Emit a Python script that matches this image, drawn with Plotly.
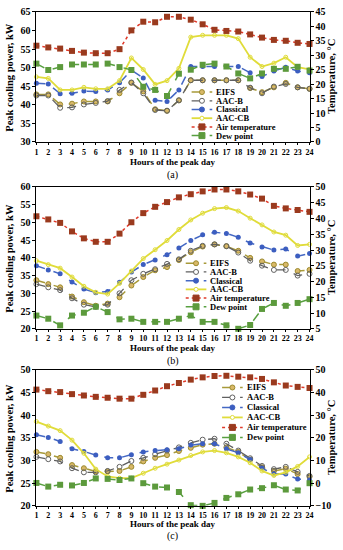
import plotly.graph_objects as go

hours = list(range(1, 25))

# ---------- Panel (a) ----------
a_eifs = [42.8, 42.8, 40.1, 40.3, 40.9, 40.9, 40.9, 43.1, 45.9, 43.6, 38.8, 38.4, 41.2, 46.6, 46.6, 46.6, 46.6, 46.6, 44.5, 43.4, 44.7, 45.9, 44.7, 44.3]
a_aacb = [42.5, 42.5, 39.2, 39.3, 40.1, 40.5, 41.0, 44.0, 46.0, 43.1, 38.6, 38.4, 41.2, 46.6, 46.6, 46.6, 46.6, 46.6, 44.6, 43.1, 44.9, 45.6, 44.7, 44.3]
a_classical = [45.8, 45.6, 43.0, 43.1, 43.7, 43.6, 44.0, 45.9, 49.3, 47.2, 41.2, 40.9, 44.0, 50.3, 50.3, 50.3, 50.3, 50.3, 48.6, 47.6, 49.1, 50.1, 49.1, 48.6]
a_aaccb = [47.5, 47.1, 44.0, 44.0, 44.7, 44.3, 44.3, 46.5, 52.6, 49.5, 45.5, 46.5, 49.8, 58.2, 58.7, 58.7, 58.7, 57.8, 52.8, 50.3, 51.2, 52.8, 50.1, 49.5]
a_air = [33.3, 32.7, 32.3, 31.5, 30.9, 30.7, 30.7, 32.1, 38.6, 41.6, 41.4, 43.3, 43.3, 42.3, 40.7, 38.8, 38.4, 38.2, 37.2, 36.1, 35.3, 35.0, 34.3, 33.9]
a_dew = [27.1, 24.9, 25.9, 26.8, 26.8, 26.8, 27.1, 25.9, 24.9, 19.1, 18.0, 15.9, 23.6, 25.0, 26.7, 27.1, 26.1, 23.7, 22.0, 23.7, 25.3, 25.3, 26.0, 24.7]

# ---------- Panel (b) ----------
b_eifs = [33.7, 32.6, 31.7, 29.1, 27.5, 26.5, 27.1, 28.9, 32.2, 34.6, 36.5, 37.4, 39.4, 41.6, 43.2, 43.8, 43.3, 42.0, 40.0, 39.0, 38.1, 38.1, 36.3, 36.6]
b_aacb = [32.6, 31.7, 30.9, 28.6, 26.8, 26.2, 26.8, 30.0, 33.7, 35.5, 36.8, 38.3, 39.6, 42.0, 43.4, 43.8, 43.3, 41.5, 39.2, 37.8, 36.6, 36.6, 35.0, 35.5]
b_classical = [37.8, 36.6, 35.5, 33.2, 31.2, 30.2, 30.5, 33.1, 36.0, 38.1, 39.4, 40.9, 42.8, 44.9, 46.5, 47.2, 46.9, 45.8, 44.2, 43.1, 42.2, 42.5, 40.5, 41.2]
b_aaccb = [39.2, 38.1, 37.1, 34.6, 32.0, 30.3, 29.8, 32.8, 36.3, 39.8, 42.3, 44.9, 48.0, 50.7, 52.6, 53.9, 54.2, 53.2, 51.2, 49.3, 47.3, 46.4, 43.5, 43.8]
b_air = [40.7, 39.7, 38.6, 35.9, 33.7, 32.6, 32.6, 35.2, 38.8, 41.7, 43.7, 45.2, 46.7, 47.7, 48.6, 49.2, 49.2, 48.6, 47.6, 46.3, 44.0, 43.2, 42.7, 42.1]
b_dew = [9.2, 8.2, 6.1, 9.2, 10.1, 12.0, 10.3, 8.0, 8.2, 7.2, 7.2, 7.2, 8.2, 9.2, 7.2, 7.2, 6.1, 5.0, 6.2, 11.3, 13.2, 12.3, 13.2, 14.4]

# ---------- Panel (c) ----------
c_eifs = [31.9, 31.4, 30.6, 29.0, 28.3, 27.6, 27.6, 27.7, 28.6, 29.8, 30.6, 31.2, 32.1, 32.8, 33.5, 33.7, 32.9, 31.9, 30.2, 28.5, 27.7, 28.2, 27.0, 26.4]
c_aacb = [30.8, 30.3, 29.8, 28.3, 27.4, 27.4, 27.7, 28.6, 29.9, 30.6, 31.4, 32.2, 32.9, 33.9, 34.6, 34.8, 33.7, 32.2, 30.5, 28.8, 28.1, 28.6, 27.5, 26.6]
c_classical = [35.7, 35.1, 34.2, 32.6, 32.0, 31.2, 30.6, 30.6, 31.3, 31.9, 32.2, 32.4, 32.6, 33.4, 33.7, 33.7, 32.6, 31.7, 30.2, 28.3, 27.0, 27.0, 25.9, 25.7]
c_aaccb = [38.6, 37.6, 36.6, 34.5, 31.6, 28.1, 26.5, 26.1, 26.1, 27.2, 28.3, 29.2, 30.1, 31.1, 31.9, 32.2, 31.7, 30.8, 29.5, 27.7, 26.7, 27.4, 28.7, 30.8]
c_air = [41.3, 40.6, 40.2, 39.3, 38.7, 38.1, 37.7, 37.3, 37.3, 39.0, 40.9, 42.8, 44.2, 45.7, 46.7, 47.3, 47.4, 47.0, 46.7, 46.0, 44.5, 43.1, 42.5, 42.0]
c_dew = [0.1, -1.5, -0.7, -1.0, 0.1, 2.1, 1.9, 1.4, 2.1, 0.0, -1.5, -1.9, -3.9, -9.7, -10.0, -8.7, -6.5, -4.9, -2.8, -2.2, -0.9, -2.8, -3.2, 0.0]

series_names = ["EIFS", "AAC-B", "Classical", "AAC-CB", "Air temperature", "Dew point"]
panel_labels = ["(a)", "(b)", "(c)"]
x_title = "Hours of the peak day"
y_left_title = "Peak cooling power, kW"
y_right_title = "Temperature, °C"
left_ranges = [[30, 65], [20, 60], [20, 50]]
right_ranges = [[0, 45], [5, 50], [-10, 50]]
right_dticks = [5, 5, 10]

W, H = 343, 550
FONT = "Liberation Serif"

styles = {
    "EIFS": dict(line=dict(color="#A89A3A", width=1.5, dash="dash"),
                 marker=dict(symbol="circle", size=5, color="#D8B868", line=dict(color="#9C8A2E", width=1))),
    "AAC-B": dict(line=dict(color="#606060", width=1.3, dash="dash"),
                  marker=dict(symbol="circle-open", size=5, color="#606060", line=dict(width=1))),
    "Classical": dict(line=dict(color="#4468C4", width=1.5, dash="dash"),
                      marker=dict(symbol="circle", size=5, color="#3C5EC0")),
    "AAC-CB": dict(line=dict(color="#E0DC3A", width=1.8, dash="solid"),
                   marker=dict(symbol="circle-open", size=4, color="#E0DC3A", line=dict(width=1))),
    "Air temperature": dict(line=dict(color="#E03A2A", width=1.5, dash="dot"),
                            marker=dict(symbol="square", size=6, color="#9A3A1E")),
    "Dew point": dict(line=dict(color="#58A040", width=1.5, dash="dash"),
                      marker=dict(symbol="square", size=6, color="#5C9A3C")),
}

panels = [
    [a_eifs, a_aacb, a_classical, a_aaccb, a_air, a_dew],
    [b_eifs, b_aacb, b_classical, b_aaccb, b_air, b_dew],
    [c_eifs, c_aacb, c_classical, c_aaccb, c_air, c_dew],
]

# pixel layout of plot areas (top, bottom) and x span
plot_tb = [(6, 139), (185, 330), (372, 511)]
x_left, x_right = 35, 313
xdom = [x_left / W, x_right / W]
xtitle_y = [159.5, 349.5, 530]
label_y = [173, 363, 542]
legend_cfg = [  # (x line start, first item y, spacing)
    (193, 88, 8.9),
    (187, 263, 8.9),
    (224, 390, 10.2),
]

fig = go.Figure()
layout = dict(
    width=W, height=H,
    margin=dict(l=0, r=0, t=0, b=0),
    paper_bgcolor="white", plot_bgcolor="white",
    showlegend=False,
    font=dict(family=FONT, size=10, color="black", weight="bold"),
)

xtick_font = dict(family=FONT, size=8, color="black", weight="bold")
ytick_font = dict(family=FONT, size=10, color="black", weight="bold")
shapes = []
annotations = []

for p in range(3):
    xa = "x" if p == 0 else f"x{p+1}"
    yl = "y" if p == 0 else f"y{2*p+1}"
    yr = f"y{2*p+2}"
    top, bot = plot_tb[p]
    ydom = [1 - bot / H, 1 - top / H]
    xkey = "xaxis" if p == 0 else f"xaxis{p+1}"
    ylkey = "yaxis" if p == 0 else f"yaxis{2*p+1}"
    yrkey = f"yaxis{2*p+2}"
    layout[xkey] = dict(domain=xdom, anchor=yl, range=[1, 24], tickmode="linear", tick0=1, dtick=1,
                        tickangle=0, ticklabelstandoff=0,
                        showline=True, linecolor="black", linewidth=1, mirror=True,
                        ticks="outside", ticklen=2, tickcolor="black", showgrid=False, zeroline=False,
                        tickfont=xtick_font)
    layout[ylkey] = dict(domain=ydom, anchor=xa, range=left_ranges[p], dtick=5,
                         showline=True, linecolor="black", linewidth=1,
                         ticks="outside", ticklen=3, tickcolor="black", showgrid=False, zeroline=False,
                         tickfont=ytick_font)
    layout[yrkey] = dict(domain=ydom, anchor=xa, overlaying=yl, side="right", range=right_ranges[p],
                         dtick=right_dticks[p],
                         showline=True, linecolor="black", linewidth=1,
                         ticks="outside", ticklen=3, tickcolor="black", showgrid=False, zeroline=False,
                         tickfont=ytick_font)
    for i, name in enumerate(series_names):
        st = styles[name]
        on_right = name in ("Air temperature", "Dew point")
        fig.add_trace(go.Scatter(
            x=hours, y=panels[p][i], mode="lines+markers", name=name,
            line=st["line"], marker=st["marker"], cliponaxis=False,
            xaxis=xa, yaxis=yr if on_right else yl,
        ))
    ymid = 1 - (top + bot) / 2 / H
    annotations.append(dict(text=y_left_title, xref="paper", yref="paper", x=8 / W, y=ymid,
                            textangle=-90, showarrow=False, xanchor="center", yanchor="middle",
                            font=dict(family=FONT, size=10.5, color="black", weight="bold")))
    annotations.append(dict(text=y_right_title, xref="paper", yref="paper", x=336 / W, y=ymid,
                            textangle=-90, showarrow=False, xanchor="center", yanchor="middle",
                            font=dict(family=FONT, size=10.5, color="black", weight="bold")))
    annotations.append(dict(text=x_title, xref="paper", yref="paper",
                            x=(x_left + x_right) / 2 / W, y=1 - xtitle_y[p] / H,
                            showarrow=False, xanchor="center", yanchor="middle",
                            font=dict(family=FONT, size=9, color="black", weight="bold")))
    annotations.append(dict(text=panel_labels[p], xref="paper", yref="paper",
                            x=(x_left + x_right) / 2 / W, y=1 - label_y[p] / H,
                            showarrow=False, xanchor="center", yanchor="middle",
                            font=dict(family=FONT, size=10, color="black", weight="normal")))
    # manual compact legend
    lx0, ly0, dy = legend_cfg[p]
    for i, name in enumerate(series_names):
        st = styles[name]
        yy = 1 - (ly0 + i * dy) / H
        x0, x1 = lx0 / W, (lx0 + 21) / W
        xm = (lx0 + 10.5) / W
        shapes.append(dict(type="line", xref="paper", yref="paper", x0=x0, x1=x1, y0=yy, y1=yy,
                           line=dict(color=st["line"]["color"], width=st["line"]["width"],
                                     dash=st["line"]["dash"])))
        m = st["marker"]
        sz = m["size"] / 2
        is_open = "open" in m["symbol"]
        edge = m.get("line", {}).get("color", m["color"])
        shapes.append(dict(type="rect" if "square" in m["symbol"] else "circle",
                           xref="paper", yref="paper", xsizemode="pixel", ysizemode="pixel",
                           xanchor=xm, yanchor=yy, x0=-sz, x1=sz, y0=-sz, y1=sz,
                           fillcolor="white" if is_open else m["color"],
                           line=dict(color=edge if not is_open else m["color"], width=1)))
        annotations.append(dict(text=name, xref="paper", yref="paper", x=(lx0 + 23) / W, y=yy,
                                showarrow=False, xanchor="left", yanchor="middle",
                                font=dict(family=FONT, size=8.5, color="black", weight="bold")))

layout["shapes"] = shapes
layout["annotations"] = annotations
fig.update_layout(**layout)
fig.write_html("out.html",
               config={"displayModeBar": False},
               post_script="document.body.style.margin='0px';document.body.style.overflow='hidden';")
